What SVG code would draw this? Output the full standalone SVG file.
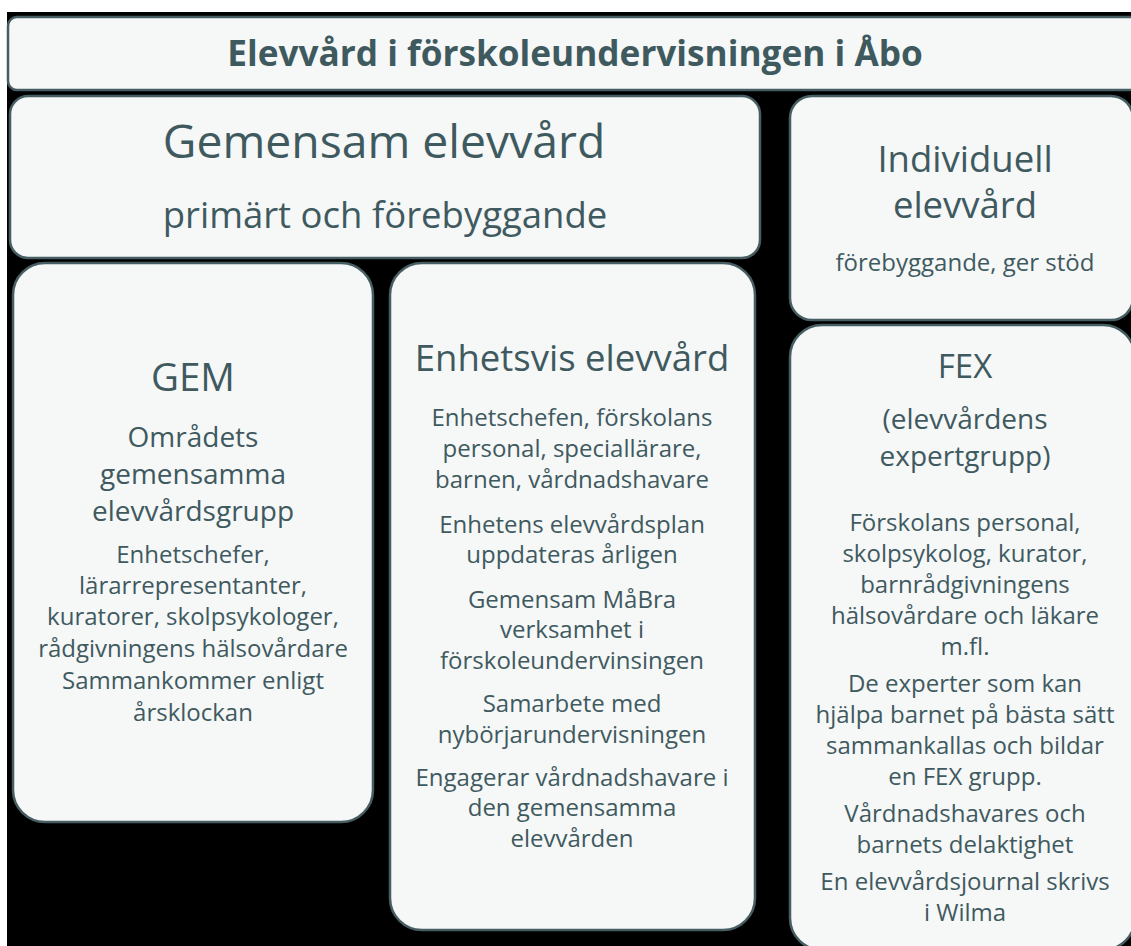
<svg xmlns="http://www.w3.org/2000/svg" width="1131" height="946" viewBox="0 0 1131 946">
<style>
.box{fill:#f6f7f7;stroke:#465d62;stroke-width:2.5}
text{font-family:"Open Sans","Noto Sans","DejaVu Sans",sans-serif;fill:#3f5a5f;text-anchor:middle}
.title{font-size:35.2px;font-weight:bold}
.h1{font-size:46.3px}
.h2{font-size:36.5px}
.sub{font-size:28px}
.body{font-size:24px}
</style>
<rect x="0" y="0" width="1131" height="946" fill="#ffffff"/>
<rect x="7" y="12" width="1124" height="934" fill="#000000"/>
<g id="title">
<rect class="box" x="8" y="17" width="1135" height="73" rx="9"/>
<text class="title" x="575" y="66">Elevvård i förskoleundervisningen i Åbo</text>
</g>
<g id="gemensam">
<rect class="box" x="10" y="96" width="750" height="162" rx="18"/>
<text class="h1" x="384" y="158">Gemensam elevvård</text>
<text class="h2" x="385" y="228">primärt och förebyggande</text>
</g>
<g id="individuell">
<rect class="box" x="790" y="96" width="343" height="224" rx="22"/>
<text class="h2" x="965" y="172">Individuell</text>
<text class="h2" x="965" y="218">elevvård</text>
<text class="body" x="965" y="271">förebyggande, ger stöd</text>
</g>
<g id="gem">
<rect class="box" x="13" y="263" width="360" height="559" rx="32"/>
<text class="h2" x="193" y="391" style="font-size:38.5px">GEM</text>
<text class="sub" x="193" y="447">Områdets</text>
<text class="sub" x="193" y="484">gemensamma</text>
<text class="sub" x="193" y="521">elevvårdsgrupp</text>
<text class="body" x="193" y="563">Enhetschefer,</text>
<text class="body" x="193" y="594">lärarrepresentanter,</text>
<text class="body" x="193" y="625">kuratorer, skolpsykologer,</text>
<text class="body" x="193" y="657">rådgivningens hälsovårdare</text>
<text class="body" x="193" y="689">Sammankommer enligt</text>
<text class="body" x="193" y="721">årsklockan</text>
</g>
<g id="enhetsvis">
<rect class="box" x="390" y="263" width="365" height="667" rx="32"/>
<text class="h2" x="572" y="371">Enhetsvis elevvård</text>
<text class="body" x="572" y="426">Enhetschefen, förskolans</text>
<text class="body" x="572" y="457">personal, speciallärare,</text>
<text class="body" x="572" y="488">barnen, vårdnadshavare</text>
<text class="body" x="572" y="533">Enhetens elevvårdsplan</text>
<text class="body" x="572" y="563">uppdateras årligen</text>
<text class="body" x="572" y="608">Gemensam MåBra</text>
<text class="body" x="572" y="638">verksamhet i</text>
<text class="body" x="572" y="669">förskoleundervinsingen</text>
<text class="body" x="572" y="712">Samarbete med</text>
<text class="body" x="572" y="743">nybörjarundervisningen</text>
<text class="body" x="572" y="786">Engagerar vårdnadshavare i</text>
<text class="body" x="572" y="816">den gemensamma</text>
<text class="body" x="572" y="847">elevvården</text>
</g>
<g id="fex">
<rect class="box" x="790" y="325" width="345" height="625" rx="32"/>
<text class="sub" x="965" y="378" style="font-size:33px">FEX</text>
<text class="sub" x="965" y="429">(elevvårdens</text>
<text class="sub" x="965" y="466">expertgrupp)</text>
<text class="body" x="965" y="531">Förskolans personal,</text>
<text class="body" x="965" y="562">skolpsykolog, kurator,</text>
<text class="body" x="965" y="593">barnrådgivningens</text>
<text class="body" x="965" y="624">hälsovårdare och läkare</text>
<text class="body" x="965" y="655">m.fl.</text>
<text class="body" x="965" y="692">De experter som kan</text>
<text class="body" x="965" y="723">hjälpa barnet på bästa sätt</text>
<text class="body" x="965" y="754">sammankallas och bildar</text>
<text class="body" x="965" y="785">en FEX grupp.</text>
<text class="body" x="965" y="822">Vårdnadshavares och</text>
<text class="body" x="965" y="853">barnets delaktighet</text>
<text class="body" x="965" y="890">En elevvårdsjournal skrivs</text>
<text class="body" x="965" y="921">i Wilma</text>
</g>
</svg>
